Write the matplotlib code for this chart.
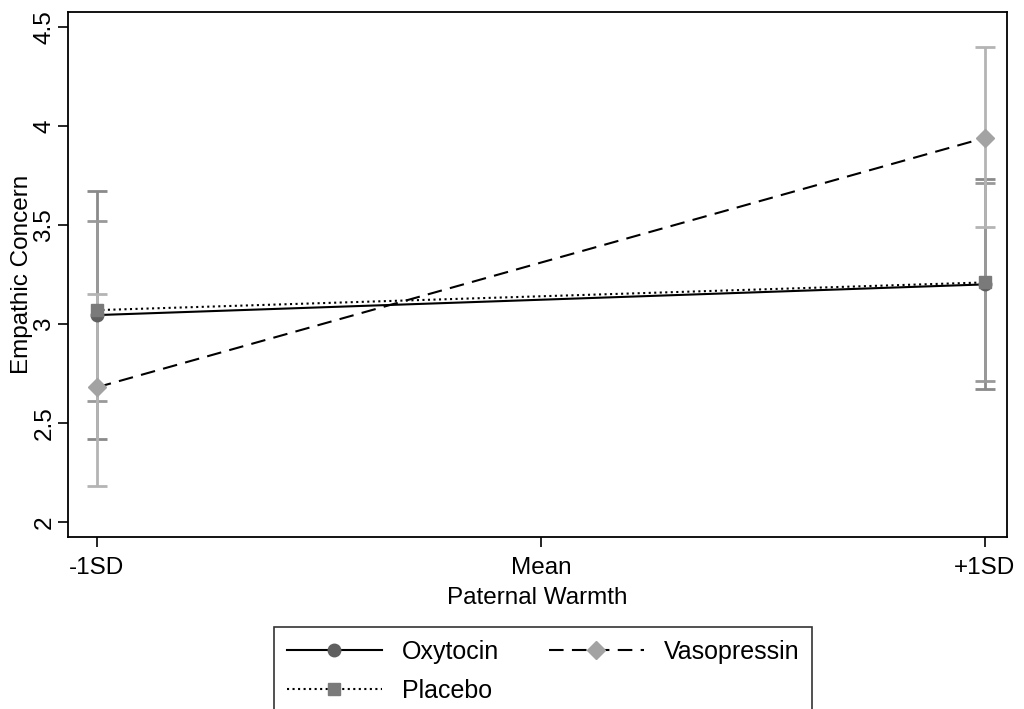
import matplotlib.pyplot as plt
import numpy as np

plt.rcParams['font.family'] = ['Liberation Sans', 'DejaVu Sans']

x = [-1, 1]
xticklabels = ["-1SD", "Mean", "+1SD"]

oxytocin = [3.045, 3.20]
oxytocin_lo = [2.42, 2.67]
oxytocin_hi = [3.67, 3.73]

vasopressin = [2.68, 3.94]
vasopressin_lo = [2.18, 3.49]
vasopressin_hi = [3.15, 4.40]

placebo = [3.07, 3.21]
placebo_lo = [2.61, 2.71]
placebo_hi = [3.52, 3.71]

fig = plt.figure(figsize=(10.24, 7.09), dpi=100)
ax = fig.add_axes([68 / 1024, 1 - 537 / 709, (1007 - 68) / 1024, (537 - 12) / 709])

series = [
    ("Oxytocin", oxytocin, oxytocin_lo, oxytocin_hi, "o", 9, "#5f5f5f", "#8a8a8a", "-"),
    ("Placebo", placebo, placebo_lo, placebo_hi, "s", 9, "#7a7a7a", "#999999", ":"),
    ("Vasopressin", vasopressin, vasopressin_lo, vasopressin_hi, "D", 9, "#a3a3a3", "#b4b4b4", (0, (7, 4))),
]

handles = []
for name, y, lo, hi, mk, ms, mcol, ecol, ls in series:
    y = np.array(y)
    err = [y - np.array(lo), np.array(hi) - y]
    ax.errorbar(x, y, yerr=err, fmt="none", ecolor=ecol, elinewidth=2,
                capsize=7, capthick=2, zorder=2)
    ax.plot(x, y, color="black", linestyle=ls, linewidth=1.5, zorder=3)
    ax.plot(x, y, linestyle="none", marker=mk, markersize=ms, color=mcol,
            markeredgecolor=mcol, zorder=4)
    h, = ax.plot([], [], color="black", linestyle=ls, linewidth=1.5,
                 marker=mk, markersize=ms, markerfacecolor=mcol, markeredgecolor=mcol)
    handles.append((h, name))

ax.set_xlim(-1.065, 1.05)
ax.set_ylim(1.924, 4.576)
ax.set_xticks([-1, 0, 1])
ax.set_xticklabels(xticklabels)
ax.set_yticks([2, 2.5, 3, 3.5, 4, 4.5])
ax.set_yticklabels(["2", "2.5", "3", "3.5", "4", "4.5"], rotation=90, va="center")
ax.tick_params(axis="both", labelsize=17.5, length=7, width=1.2)
ax.tick_params(axis="x", pad=7.5)
ax.tick_params(axis="y", pad=2)
for s in ax.spines.values():
    s.set_linewidth(1.3)

ax.set_xlabel("Paternal Warmth", fontsize=17.5, labelpad=6)
ax.set_ylabel("Empathic Concern", fontsize=17.5, labelpad=0)

leg = fig.legend([h for h, _ in handles], [n for _, n in handles], ncol=2,
                 loc="upper center", bbox_to_anchor=(543 / 1024, 1 - 627 / 709),
                 borderaxespad=0, fontsize=18, handlelength=3.8, frameon=True,
                 fancybox=False, edgecolor="black", columnspacing=2,
                 borderpad=0.5, labelspacing=0.6)
leg.get_frame().set_linewidth(1.2)

fig.savefig("out.png", dpi=100)
